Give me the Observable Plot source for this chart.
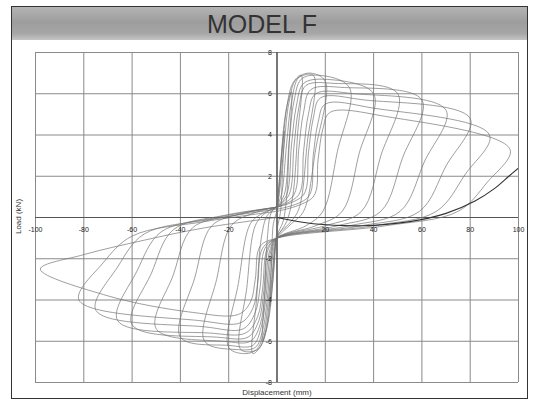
<!DOCTYPE html>
<html><head><meta charset="utf-8">
<script src="https://cdn.jsdelivr.net/npm/d3@7"></script>
<script src="https://cdn.jsdelivr.net/npm/@observablehq/plot@0.6"></script>
<style>
body{margin:0;background:#fff;font-family:"Liberation Sans",Arial,sans-serif;}
#page{position:relative;width:535px;height:401px;overflow:hidden;background:#fff;}
#frame{position:absolute;left:11px;top:6px;width:515px;height:391px;border:1px solid #333;z-index:3;pointer-events:none;}
#band{position:absolute;left:12px;top:7px;width:515px;height:33px;background:linear-gradient(to bottom,#b4b4b4,#9d9d9d 45%,#a6a6a6 80%,#c4c4c4);z-index:2;}
#title{position:absolute;left:12px;top:7px;width:500px;height:33px;line-height:35px;text-align:center;font-size:25px;color:#333;z-index:3;}
#chart{position:absolute;left:0;top:40px;z-index:1;}
#ylab{position:absolute;left:-4px;top:212px;width:44px;text-align:center;font-size:8px;color:#333;transform:rotate(-90deg);z-index:3;}
#xlab{position:absolute;left:227px;top:388px;width:100px;text-align:center;font-size:8px;color:#333;z-index:3;}
</style></head>
<body>
<div id="page">
  <div id="band"></div>
  <div id="title">MODEL F</div>
  <div id="chart"></div>
  <div id="ylab">Load (kN)</div>
  <div id="xlab">Displacement (mm)</div>
  <div id="frame"></div>
</div>
<script>
const xTicks = [-100,-80,-60,-40,-20,0,20,40,60,80,100];
const yTicks = [-8,-6,-4,-2,0,2,4,6,8];

// hysteresis cycles: [displacement (mm), load]
const c1 = [[0,0],[1,1.5],[2,3.2],[3,4.2],[2.2,2],[1.5,0.3],[0,-0.6],[-1,-2],[-2,-3.4],[-3,-4.3],[-2.2,-2],[-1.5,-0.3],[0,0.3]];
const c2 = [[0,0.3],[1.5,2.6],[3,4.6],[4.5,5.6],[6,6.1],[5,3.5],[4,1],[2.5,-0.2],[0,-0.9],[-1.5,-2.8],[-3,-4.6],[-4.5,-5.5],[-6,-6],[-5,-3.5],[-4,-1],[-2.5,0.2],[0,0.6]];
const c3 = [[0,0.6],[2,3],[4,5.3],[6.5,6.5],[10,6.9],[8.5,4],[6.5,1.0],[4,-0.2],[0,-1],[-2,-3],[-4,-5.2],[-6.5,-6.2],[-10,-6.6],[-8.5,-4],[-6.5,-1.0],[-4,0.1],[0,0.5]];
const c4 = [[0,0.5],[1,1.2],[3,3.6],[5,5.6],[8,6.7],[15,6.9],[12.5,3.6],[9,0.4],[5,-0.3],[0,-0.9],[-1,-1.6],[-3,-3.9],[-5,-5.6],[-8,-6.4],[-15,-6.4],[-12.5,-3.4],[-9,-0.4],[-5,0.2],[0,0.5]];
const c5 = [[0,0.5],[2,1.2],[4,3.6],[6,5.6],[9,6.8],[14,7.0],[20,6.6],[16,3.3],[11,0.3],[6,-0.3],[0,-1],[-1.5,-1.6],[-3.5,-3.9],[-5.5,-5.6],[-8.5,-6.4],[-13,-6.6],[-20,-6.3],[-16,-3.2],[-11,-0.3],[-6,0.2],[0,0.5]];
const c6 = [[0,0.5],[3,1.1],[5,3.6],[7,5.6],[10,6.7],[17,6.9],[30,6.3],[25,3.2],[19,0.3],[12,-0.4],[0,-1],[-2,-1.6],[-4,-3.9],[-6,-5.5],[-9,-6.3],[-17,-6.4],[-30,-6],[-25,-3.0],[-19,-0.4],[-10,0.2],[0,0.5]];
const c7 = [[0,0.5],[4,1.1],[6,3.5],[8,5.4],[11,6.5],[20,6.7],[40,6.0],[34,3.1],[27,0.3],[16,-0.4],[0,-1],[-2.5,-1.6],[-4.5,-3.8],[-6.5,-5.3],[-10,-6.2],[-20,-6.2],[-40,-5.8],[-34,-2.9],[-27,-0.4],[-14,0.2],[0,0.5]];
const c8 = [[0,0.5],[5,1.1],[7,3.4],[9,5.3],[12,6.4],[24,6.5],[50,6.0],[43,3.0],[35,0.3],[20,-0.4],[0,-1],[-3,-1.6],[-5,-3.7],[-7,-5.2],[-11,-6.0],[-22,-6.0],[-50,-5.4],[-43,-2.8],[-35,-0.5],[-18,0.1],[0,0.5]];
const c9 = [[0,0.5],[7,1.1],[9,3.3],[11,5.1],[14,6.2],[28,6.3],[60,5.7],[52,2.9],[43,0.3],[25,-0.4],[0,-1],[-3.5,-1.5],[-5.5,-3.6],[-7.5,-5.0],[-12,-5.8],[-25,-5.8],[-60,-5.2],[-52,-2.7],[-43,-0.6],[-22,0.1],[0,0.5]];
const c10 = [[0,0.5],[9,1.1],[11,3.2],[13,5.0],[16,6.0],[32,6.0],[70,5.2],[61,2.7],[51,0.3],[30,-0.4],[0,-1],[-4,-1.5],[-6,-3.5],[-8,-4.8],[-13,-5.6],[-28,-5.6],[-66,-5.0],[-58,-2.6],[-48,-0.7],[-25,0],[0,0.5]];
const c11 = [[0,0.5],[11,1.1],[13,3.1],[15,4.8],[18,5.8],[36,5.7],[80,4.8],[70,2.5],[59,0.3],[35,-0.4],[0,-1],[-5,-1.5],[-7,-3.4],[-9,-4.6],[-14,-5.4],[-30,-5.3],[-75,-4.5],[-66,-2.4],[-55,-0.8],[-28,-0.1],[0,0.4]];
const c12 = [[0,0.4],[13,1],[15,3.0],[17,4.6],[20,5.5],[40,5.3],[88,4.0],[78,2.1],[66,0.3],[40,-0.4],[0,-1],[-6,-1.5],[-8,-3.2],[-10,-4.4],[-15,-5.1],[-32,-5.0],[-82,-4.0],[-72,-2.2],[-60,-0.9],[-30,-0.2],[0,0.3]];
const c13 = [[0,0.3],[15,1],[17,2.8],[19,4.3],[22,5.1],[45,4.9],[96.5,3.3],[87,1.7],[75,0.3],[45,-0.4],[0,-1],[-7,-1.4],[-9,-3.0],[-11,-4.1],[-16,-4.7],[-35,-4.6],[-70,-3.8],[-98,-2.5],[-80,-1.8],[-55,-1.1],[-30,-0.5],[0,0]];
const finalPath = [[0,0],[15,-0.3],[35,-0.4],[55,-0.2],[70,0.2],[82,0.8],[90,1.4],[96,2],[100,2.4]];

const cycles = [c1,c2,c3,c4,c5,c6,c7,c8,c9,c10,c11,c12,c13];
const table = cycles.flatMap((c,i) => c.map(([d,L]) => ({d, L, cycle: i})));
const finalTable = finalPath.map(([d,L]) => ({d, L}));

const chart = Plot.plot({
  width: 535, height: 350,
  marginLeft: 35, marginRight: 17, marginTop: 12, marginBottom: 8,
  style: {background: "transparent", fontFamily: "Liberation Sans, Arial, sans-serif"},
  x: {domain: [-100, 100], axis: null},
  y: {domain: [-8, 8], axis: null},
  marks: [
    Plot.ruleX(xTicks, {stroke: "#8a8a8a", strokeWidth: 1}),
    Plot.ruleY(yTicks, {stroke: "#8a8a8a", strokeWidth: 1}),
    Plot.ruleX([0], {stroke: "#444", strokeWidth: 1.2}),
    Plot.ruleY([0], {stroke: "#555", strokeWidth: 1.2}),
    Plot.line(table, {x: "d", y: "L", z: "cycle", curve: "catmull-rom", stroke: "#707070", strokeWidth: 0.8, strokeOpacity: 0.85, clip: true}),
    Plot.line(finalTable, {x: "d", y: "L", curve: "catmull-rom", stroke: "#333", strokeWidth: 1.1, clip: true}),
    Plot.text(xTicks.filter(t => t !== 0), {x: d => d, y: 0, dy: 12, text: d => String(d), fontSize: 7, fill: "#222"}),
    Plot.text(yTicks.filter(t => t !== 0), {x: 0, y: d => d, dx: -5, textAnchor: "end", text: d => String(d), fontSize: 7, fill: "#222"})
  ]
});
document.getElementById("chart").appendChild(chart);
</script>
</body></html>
